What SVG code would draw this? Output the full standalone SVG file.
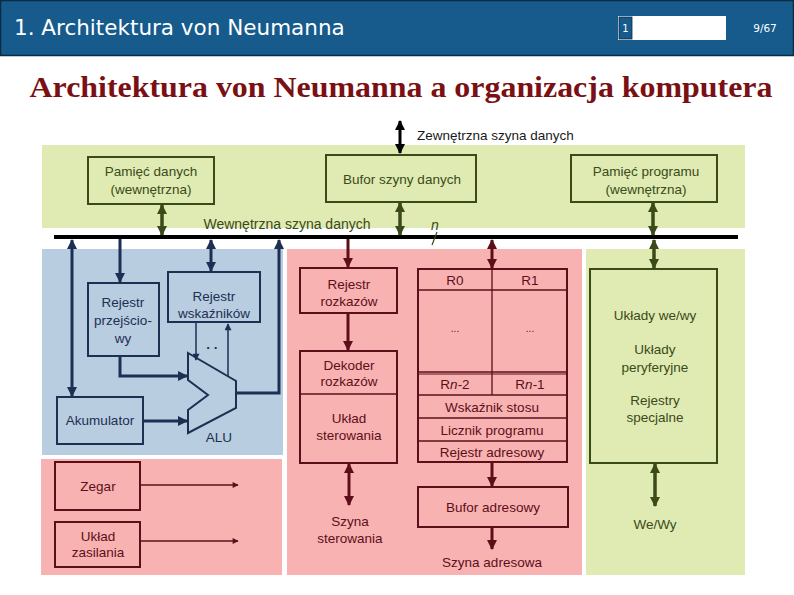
<svg xmlns="http://www.w3.org/2000/svg" width="794" height="595" viewBox="0 0 794 595">
<style>
  .lbl { font-family: "Liberation Sans", Arial, sans-serif; font-size: 13.5px; text-anchor: middle; }
  .g { fill: #3a4a18; }
  .b { fill: #1d2f52; }
  .r { fill: #5c0f18; }
  .boxg { fill: none; stroke: #3a4a18; stroke-width: 2; }
  .boxb { fill: none; stroke: #1d2f52; stroke-width: 2; }
  .boxr { fill: none; stroke: #5c0f18; stroke-width: 2; }
  .lg { stroke: #3a4a18; stroke-width: 3.5; fill: none; }
  .lb { stroke: #1d2f52; stroke-width: 3; fill: none; }
  .lr { stroke: #5c0f18; stroke-width: 3; fill: none; }
  .lk { stroke: #000; stroke-width: 3; fill: none; }
</style>
<defs>
  <marker id="ag" viewBox="0 0 10 10" refX="9" refY="5" markerWidth="10" markerHeight="11" markerUnits="userSpaceOnUse" orient="auto-start-reverse"><path d="M0,0 L10,5 L0,10 z" fill="#3a4a18"/></marker>
  <marker id="ab" viewBox="0 0 10 10" refX="9" refY="5" markerWidth="10" markerHeight="10" markerUnits="userSpaceOnUse" orient="auto-start-reverse"><path d="M0,0 L10,5 L0,10 z" fill="#1d2f52"/></marker>
  <marker id="ar" viewBox="0 0 10 10" refX="9" refY="5" markerWidth="10" markerHeight="10" markerUnits="userSpaceOnUse" orient="auto-start-reverse"><path d="M0,0 L10,5 L0,10 z" fill="#5c0f18"/></marker>
  <marker id="ars" viewBox="0 0 10 10" refX="9" refY="5" markerWidth="9" markerHeight="6" markerUnits="userSpaceOnUse" orient="auto"><path d="M0,0 L10,5 L0,10 z" fill="#5c0f18"/></marker>
  <marker id="abs" viewBox="0 0 10 10" refX="9" refY="5" markerWidth="9" markerHeight="7" markerUnits="userSpaceOnUse" orient="auto"><path d="M0,0 L10,5 L0,10 z" fill="#1d2f52"/></marker>
  <marker id="ak" viewBox="0 0 10 10" refX="9" refY="5" markerWidth="10" markerHeight="10" markerUnits="userSpaceOnUse" orient="auto-start-reverse"><path d="M0,0 L10,5 L0,10 z" fill="#000"/></marker>
</defs>

<!-- header -->
<g id="header">
  <rect x="0" y="0" width="794" height="56" fill="#175b8d"/>
  <rect x="0.5" y="0.5" width="793" height="55" fill="none" stroke="#0b2a44" stroke-width="1.5"/>
  <text x="14" y="35" font-family="DejaVu Sans, Verdana, sans-serif" font-size="21.5" fill="#ffffff">1. Architektura von Neumanna</text>
  <rect x="618" y="16" width="108" height="24" fill="#ffffff"/>
  <rect x="619" y="17" width="13" height="22" fill="#175b8d" stroke="#0b2a44" stroke-width="0.8"/>
  <text x="625.5" y="32" font-family="DejaVu Sans, Verdana, sans-serif" font-size="10" fill="#ffffff" text-anchor="middle">1</text>
  <text x="765" y="32" font-family="DejaVu Sans, Verdana, sans-serif" font-size="10.5" fill="#ffffff" text-anchor="middle">9/67</text>
</g>

<text x="401" y="97" font-family="Liberation Serif, Times New Roman, serif" font-weight="bold" font-size="30" fill="#7a1014" text-anchor="middle" textLength="743" lengthAdjust="spacingAndGlyphs">Architektura von Neumanna a organizacja komputera</text>

<!-- backgrounds -->
<g id="areas">
  <rect x="42" y="145" width="703" height="83" fill="#dfebb3"/>
  <rect x="42" y="249" width="241" height="206" fill="#b8cde0"/>
  <rect x="41" y="459" width="241" height="116" fill="#f9b2b2"/>
  <rect x="287" y="249" width="295" height="326" fill="#f9b2b2"/>
  <rect x="586" y="249" width="159" height="326" fill="#dfebb3"/>
</g>

<!-- bus labels -->
<text class="lbl" x="417" y="140" style="text-anchor:start" fill="#1a1a1a">Zewnętrzna szyna danych</text>
<text class="lbl g" x="287" y="229" style="font-size:14px">Wewnętrzna szyna danych</text>
<text x="435" y="230" font-family="Liberation Sans, Arial, sans-serif" font-style="italic" font-size="14" fill="#3a4a18" text-anchor="middle">n</text>

<!-- connectors -->
<g id="connectors">
  <!-- internal bus -->
  <line x1="54" y1="237" x2="738" y2="237" stroke="#000" stroke-width="4"/>
  <line x1="432" y1="245" x2="437" y2="232" stroke="#3a4a18" stroke-width="1.2"/>
  <!-- external bus -->
  <line class="lk" x1="400" y1="121" x2="400" y2="153" marker-start="url(#ak)" marker-end="url(#ak)"/>
  <!-- green -->
  <line class="lg" x1="162" y1="205" x2="162" y2="235" marker-start="url(#ag)" marker-end="url(#ag)"/>
  <line class="lg" x1="400" y1="203" x2="400" y2="235" marker-start="url(#ag)" marker-end="url(#ag)"/>
  <line class="lg" x1="653" y1="203" x2="653" y2="235" marker-start="url(#ag)" marker-end="url(#ag)"/>
  <line class="lg" x1="654" y1="240" x2="654" y2="268" marker-start="url(#ag)" marker-end="url(#ag)"/>
  <line class="lg" x1="655" y1="464" x2="655" y2="506" marker-start="url(#ag)" marker-end="url(#ag)"/>
  <!-- blue -->
  <line class="lb" x1="72" y1="240" x2="72" y2="396" marker-start="url(#ab)" marker-end="url(#ab)"/>
  <line class="lb" x1="120" y1="239" x2="120" y2="282" marker-end="url(#ab)"/>
  <line class="lb" x1="211" y1="240" x2="211" y2="271" marker-start="url(#ab)" marker-end="url(#ab)"/>
  <polyline class="lb" points="236,393 279,393 279,240" marker-end="url(#ab)"/>
  <polyline class="lb" points="120,357 120,376 187,376" marker-end="url(#ab)"/>
  <line class="lb" x1="144" y1="421" x2="187" y2="421" marker-end="url(#ab)"/>
  <line x1="196" y1="323" x2="196" y2="360" stroke="#1d2f52" stroke-width="1.5" marker-end="url(#abs)"/>
  <line x1="228" y1="376" x2="228" y2="324" stroke="#1d2f52" stroke-width="1.5" marker-end="url(#abs)"/>
  <!-- pink -->
  <line class="lr" x1="348" y1="239" x2="348" y2="267" marker-end="url(#ar)"/>
  <line class="lr" x1="348" y1="314" x2="348" y2="350" marker-end="url(#ar)"/>
  <line class="lr" x1="349" y1="464" x2="349" y2="505" marker-start="url(#ar)" marker-end="url(#ar)"/>
  <line class="lr" x1="492" y1="240" x2="492" y2="268" marker-start="url(#ar)" marker-end="url(#ar)"/>
  <line class="lr" x1="492" y1="463" x2="492" y2="486" marker-end="url(#ar)"/>
  <line class="lr" x1="492" y1="528" x2="492" y2="549" marker-end="url(#ar)"/>
  <line x1="141" y1="485" x2="238" y2="485" stroke="#5c0f18" stroke-width="1.3" marker-end="url(#ars)"/>
  <line x1="141" y1="541" x2="238" y2="541" stroke="#5c0f18" stroke-width="1.3" marker-end="url(#ars)"/>
</g>

<!-- green nodes -->
<g id="pamiec-danych">
  <rect class="boxg" x="88" y="157" width="126" height="47"/>
  <text class="lbl g" x="151" y="176">Pamięć danych</text>
  <text class="lbl g" x="151" y="194">(wewnętrzna)</text>
</g>
<g id="bufor-szyny">
  <rect class="boxg" x="326" y="155" width="150" height="47"/>
  <text class="lbl g" x="402" y="184">Bufor szyny danych</text>
</g>
<g id="pamiec-programu">
  <rect class="boxg" x="571" y="155" width="146" height="47"/>
  <text class="lbl g" x="646" y="176">Pamięć programu</text>
  <text class="lbl g" x="646" y="194">(wewnętrzna)</text>
</g>
<g id="io">
  <rect class="boxg" x="590" y="269" width="127" height="194"/>
  <text class="lbl g" x="655" y="320">Układy we/wy</text>
  <text class="lbl g" x="655" y="354">Układy</text>
  <text class="lbl g" x="655" y="372">peryferyjne</text>
  <text class="lbl g" x="655" y="405">Rejestry</text>
  <text class="lbl g" x="655" y="422">specjalne</text>
</g>
<text class="lbl g" x="655" y="529">We/Wy</text>

<!-- blue nodes -->
<g id="rejestr-przejsciowy">
  <rect class="boxb" x="88" y="283" width="71" height="73"/>
  <text class="lbl b" x="123" y="307">Rejestr</text>
  <text class="lbl b" x="123" y="325">przejścio-</text>
  <text class="lbl b" x="123" y="343">wy</text>
</g>
<g id="rejestr-wskaznikow">
  <rect class="boxb" x="168" y="272" width="92" height="50"/>
  <text class="lbl b" x="214" y="301">Rejestr</text>
  <text class="lbl b" x="214" y="318">wskaźników</text>
  <text class="lbl b" x="212" y="349" style="font-weight:bold">. .</text>
</g>
<g id="akumulator">
  <rect class="boxb" x="57" y="397" width="86" height="47"/>
  <text class="lbl b" x="100" y="425">Akumulator</text>
</g>
<g id="alu">
  <polygon points="188,353 236,381 236,408 188,433 188,410 208,395 188,380" fill="none" stroke="#1d2f52" stroke-width="2"/>
  <text class="lbl b" x="219" y="442">ALU</text>
</g>

<!-- pink nodes -->
<g id="rejestr-rozkazow">
  <rect class="boxr" x="300" y="268" width="97" height="45"/>
  <text class="lbl r" x="349" y="289">Rejestr</text>
  <text class="lbl r" x="349" y="306">rozkazów</text>
</g>
<g id="dekoder">
  <rect class="boxr" x="300" y="351" width="97" height="112"/>
  <line x1="300" y1="394" x2="397" y2="394" stroke="#5c0f18" stroke-width="1.3"/>
  <text class="lbl r" x="349" y="370">Dekoder</text>
  <text class="lbl r" x="349" y="386">rozkazów</text>
  <text class="lbl r" x="349" y="423">Układ</text>
  <text class="lbl r" x="349" y="440">sterowania</text>
</g>
<text class="lbl r" x="350" y="526">Szyna</text>
<text class="lbl r" x="350" y="543">sterowania</text>
<g id="rejestry">
  <rect class="boxr" x="418" y="269" width="149" height="193"/>
  <line x1="492" y1="269" x2="492" y2="395" stroke="#5c0f18" stroke-width="1.3"/>
  <line x1="418" y1="290" x2="567" y2="290" stroke="#5c0f18" stroke-width="1.3"/>
  <line x1="418" y1="372" x2="567" y2="372" stroke="#5c0f18" stroke-width="1.3"/>
  <line x1="418" y1="374" x2="567" y2="374" stroke="#5c0f18" stroke-width="1"/>
  <line x1="418" y1="395" x2="567" y2="395" stroke="#5c0f18" stroke-width="1.3"/>
  <line x1="418" y1="418" x2="567" y2="418" stroke="#5c0f18" stroke-width="1.3"/>
  <line x1="418" y1="441" x2="567" y2="441" stroke="#5c0f18" stroke-width="1.3"/>
  <text class="lbl r" x="455" y="285">R0</text>
  <text class="lbl r" x="530" y="285">R1</text>
  <text class="lbl r" x="455" y="332" style="font-size:10px">...</text>
  <text class="lbl r" x="530" y="332" style="font-size:10px">...</text>
  <text class="lbl r" x="455" y="389">R<tspan font-style="italic">n</tspan>-2</text>
  <text class="lbl r" x="530" y="389">R<tspan font-style="italic">n</tspan>-1</text>
  <text class="lbl r" x="492" y="412">Wskaźnik stosu</text>
  <text class="lbl r" x="492" y="435">Licznik programu</text>
  <text class="lbl r" x="492" y="457">Rejestr adresowy</text>
</g>
<g id="bufor-adresowy">
  <rect class="boxr" x="418" y="487" width="150" height="40"/>
  <text class="lbl r" x="493" y="512">Bufor adresowy</text>
</g>
<text class="lbl r" x="492" y="567">Szyna adresowa</text>

<g id="zegar">
  <rect class="boxr" x="55" y="462" width="85" height="48"/>
  <text class="lbl r" x="98" y="491">Zegar</text>
</g>
<g id="zasilanie">
  <rect class="boxr" x="55" y="522" width="85" height="45"/>
  <text class="lbl r" x="98" y="541">Układ</text>
  <text class="lbl r" x="98" y="557">zasilania</text>
</g>
</svg>
